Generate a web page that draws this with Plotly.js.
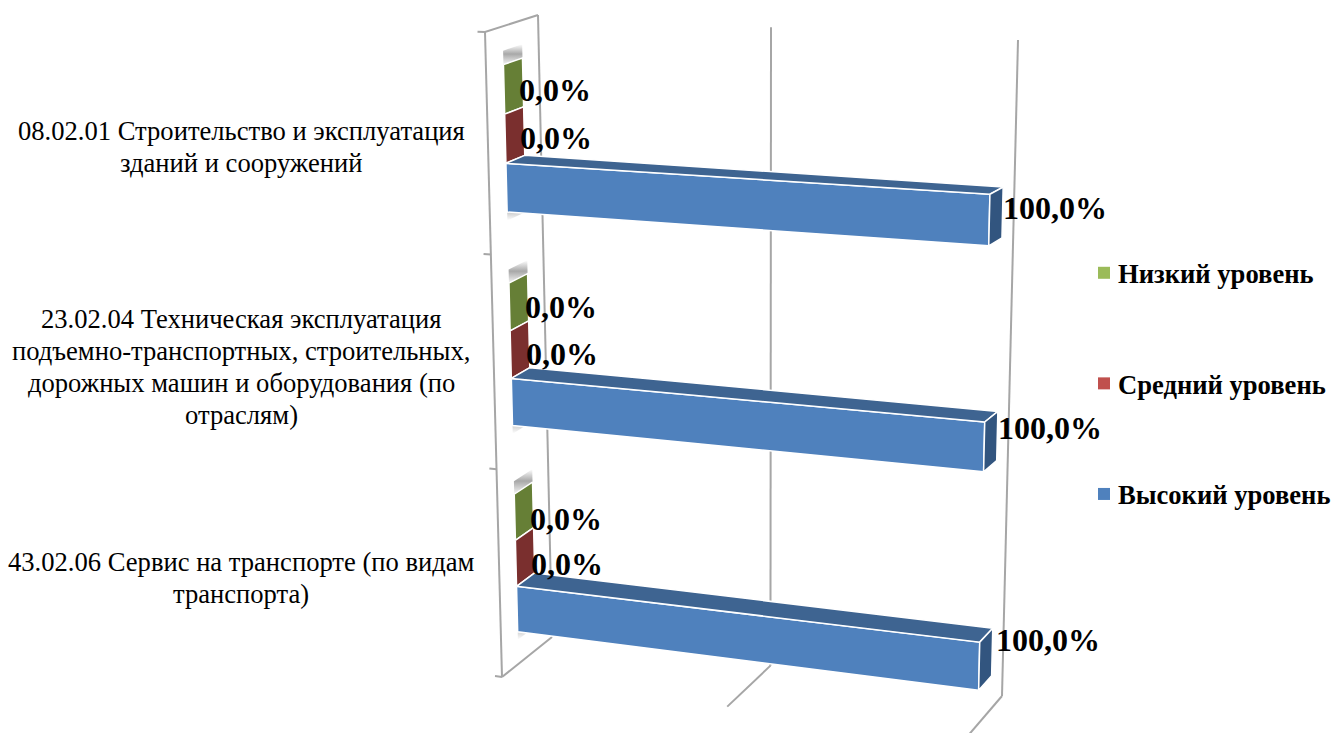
<!DOCTYPE html>
<html><head><meta charset="utf-8">
<script src="https://cdn.plot.ly/plotly-3.0.1.min.js"></script>
<style>html,body{margin:0;padding:0;background:#fff;overflow:hidden}</style></head>
<body><div id="chart" style="width:1333px;height:733px"></div>
<script>
// ---- data ----
const categories = [
  ["08.02.01 Строительство и эксплуатация","зданий и сооружений"],
  ["23.02.04 Техническая эксплуатация","подъемно-транспортных, строительных,","дорожных машин и оборудования (по","отраслям)"],
  ["43.02.06 Сервис на транспорте (по видам","транспорта)"]
];
const lowValues  = [0, 0, 0];
const midValues  = [0, 0, 0];
const highValues = [100, 100, 100];
const seriesNames = ["Низкий уровень", "Средний уровень", "Высокий уровень"];
const gridValues = [0, 50, 100];
const axisMax = 100;

// ---- styling ----
const seriesColors = ["#9bbb59", "#c0504d", "#4f81bd"];
const frontColors  = ["#9bbb59", "#c0504d", "#4f81bd"];
const topColors    = ["#7d9a45", "#9c3f3c", "#3e6491"];
const endColors    = ["#667f36", "#7a2f2e", "#32557f"];
const serif = "'Liberation Serif','Times New Roman',serif";
const wallColor = "#a6a6a6";

// ---- the 3D frame of the original chart, projected on the page ----
const corner = {
  lft:[485,32], lbt:[538,15], lfb:[502,677], lbb:[552,637],
  rft:[981,54], rbt:[1018,40], rfb:[966,738], rbb:[1002,696]
};
const projV = t => t/(t+(1-t)*1.06);
const projH = t => t/(t+(1-t)*0.95);
function P(v, t, z){
  const u = projV(v/axisMax), h = projH(t);
  const mix=(a,b,k)=>[a[0]+(b[0]-a[0])*k, a[1]+(b[1]-a[1])*k];
  const f = mix(mix(corner.lft,corner.rft,u), mix(corner.lfb,corner.rfb,u), h);
  const b = mix(mix(corner.lbt,corner.rbt,u), mix(corner.lbb,corner.rbb,u), h);
  return mix(f,b,z);
}
const zFront=0.33, zBack=0.69, groupStart=0.0572, slot=0.0745;
// label nudges per category (px)
const zeroNudge = [[-6,-7],[-5,-10],[-5,-14]];
const fullNudge = [[-2,5],[-1,8],[2,12]];
const catCentreY = [146.5,367,577.5];
const catLineGap = 32;

const traces=[];
function line(pts,width){
  traces.push({type:"scatter",mode:"lines",x:pts.map(p=>p[0]),y:pts.map(p=>p[1]),
    line:{color:wallColor,width:width||2},hoverinfo:"skip",showlegend:false});
}
function face(pts,color){
  const c=pts.concat([pts[0]]);
  traces.push({type:"scatter",mode:"lines",fill:"toself",fillcolor:color,
    x:c.map(p=>p[0]),y:c.map(p=>p[1]),line:{color:"#ffffff",width:1.5},hoverinfo:"skip",showlegend:false});
}
function shade(pts){
  const c=pts.concat([pts[0]]);
  traces.push({type:"scatter",mode:"none",fill:"toself",
    fillgradient:{type:"vertical",colorscale:[[0,"#ffffff"],[0.55,"#a8a8a8"],[1,"#ffffff"]]},
    x:c.map(p=>p[0]),y:c.map(p=>p[1]),hoverinfo:"skip",showlegend:false});
}

// walls
gridValues.forEach(v=>{
  line([P(v,0,1),P(v,1,1)]);
  line([P(v,1,1),P(v,1,0)]);
});
line([P(-1.6,0,0),P(0,0,0),P(0,0,1)]);
line([P(0,0,0),P(0,1,0)]);
[1/3,2/3,1].forEach(t=>line([P(-1.6,t,0),P(0,t,0)]));

// bars
const allValues=[lowValues,midValues,highValues];
const annotations=[];
const catCount=categories.length;
for(let c=0;c<catCount;c++){
  const start=c/catCount+groupStart;
  const sTop=start-0.021, sBot=start+3*slot;
  shade([P(0,sTop,zFront),P(0,sTop,zBack),P(0,start+0.002,zBack),P(0,start+0.002,zFront)]);
  shade([P(0,sBot-0.013,zFront),P(0,sBot-0.013,zBack),P(0,sBot+0.013,zBack),P(0,sBot+0.013,zFront)]);
  allValues.forEach((vals,s)=>{
    const v=vals[c], t0=start+s*slot, t1=t0+slot;
    if(v>0){
      face([P(0,t0,zFront),P(v,t0,zFront),P(v,t1,zFront),P(0,t1,zFront)],frontColors[s]);
      face([P(0,t0,zBack),P(v,t0,zBack),P(v,t0,zFront),P(0,t0,zFront)],topColors[s]);
    }
    face([P(v,t0,zFront),P(v,t0,zBack),P(v,t1,zBack),P(v,t1,zFront)],endColors[s]);
    const a=P(v,(t0+t1)/2,zBack);
    const n=v>0?fullNudge[c]:zeroNudge[c];
    annotations.push({x:a[0],y:a[1],xref:"x",yref:"y",xanchor:"left",yanchor:"middle",
      xshift:n[0], yshift:n[1], showarrow:false,
      text:v.toFixed(1).replace(".",",")+"%",
      font:{family:serif,size:32,color:"#000",weight:700}});
  });
  // category label, one annotation per line
  categories[c].forEach((txt,i,arr)=>{
    annotations.push({x:241,y:catCentreY[c]+(i-(arr.length-1)/2)*catLineGap,xref:"x",yref:"y",
      xanchor:"center",yanchor:"middle",showarrow:false,text:txt,
      font:{family:serif,size:26.6,color:"#000"}});
  });
}

// legend entries
seriesNames.forEach((n,i)=>traces.push({type:"scatter",mode:"markers",x:[null],y:[null],name:n,
  legendgroup:"g"+i,marker:{symbol:"square",size:12,color:seriesColors[i]}}));

const layout={
  width:1333,height:733,margin:{l:0,r:0,t:0,b:0,autoexpand:false},paper_bgcolor:"#fff",plot_bgcolor:"#fff",
  xaxis:{range:[0,1333],visible:false,fixedrange:true},
  yaxis:{range:[733,0],visible:false,fixedrange:true},
  annotations,
  showlegend:true,
  legend:{x:1078/1333,y:1-249/733,xanchor:"left",yanchor:"top",tracegroupgap:73,traceorder:"grouped",
    font:{family:serif,size:26.6,color:"#000",weight:700},bgcolor:"rgba(0,0,0,0)",itemclick:false,itemdoubleclick:false}
};
Plotly.newPlot("chart",traces,layout,{displayModeBar:false,staticPlot:true}).then(()=>{
  document.querySelectorAll(".legend .legendsymbols").forEach(g=>g.setAttribute("transform","translate(6,0)"));
});
</script></body></html>
